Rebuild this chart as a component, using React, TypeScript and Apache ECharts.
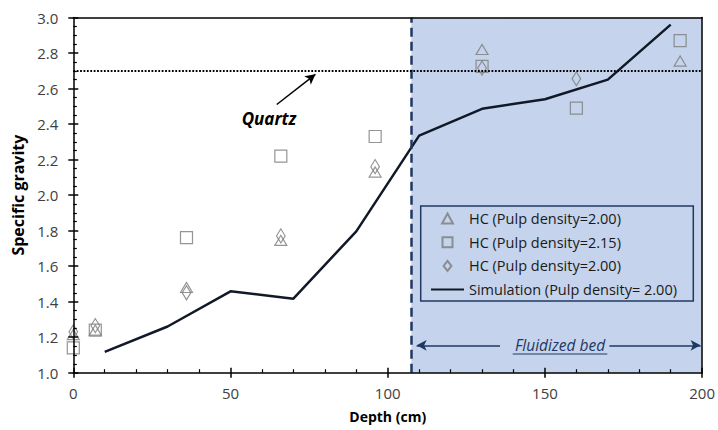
import React, { useEffect, useRef } from "react";
import * as echarts from "echarts";

const depthHC = [0, 7, 36, 66, 96, 130, 160, 193];
const hcA = [1.215, 1.24, 1.48, 1.745, 2.13, 2.82, null, 2.755];
const hcB = [1.14, 1.24, 1.76, 2.22, 2.33, 2.725, 2.49, 2.87];
const hcC = [1.23, 1.265, 1.45, 1.77, 2.16, 2.715, 2.655, null];
const simDepth = [10, 30, 50, 70, 90, 110, 130, 150, 170, 190];
const simSG = [1.117, 1.26, 1.458, 1.417, 1.796, 2.335, 2.486, 2.54, 2.65, 2.96];
const nameA = "HC (Pulp density=2.00)";
const nameB = "HC (Pulp density=2.15)";
const nameC = "HC (Pulp density=2.00) ";
const nameS = "Simulation (Pulp density= 2.00)";
const quartzSG = 2.7;
const bedStart = 107.5;
const xTicks = [0, 50, 100, 150, 200];

const FONT = "'Open Sans', Lato, sans-serif";
const NAVY = "#1F3864";
const GRAY = "#7a7a7a";
const TRI = "path://M6,0 L12,11 L0,11 Z";
const SQR = "path://M0,0 L12,0 L12,12 L0,12 Z";
const DIA = "path://M5.5,0 L11,7 L5.5,14 L0,7 Z";

function pairs(xs: number[], ys: (number | null)[]) {
  return xs.map((x, i) => [x, ys[i]]).filter((p) => p[1] !== null);
}

export default function App() {
  const ref = useRef<HTMLDivElement>(null);
  useEffect(() => {
    if (!ref.current) return;
    const chart = echarts.init(ref.current, undefined, { renderer: "svg" });
    const axisBase = {
      type: "value",
      min: 0,
      max: 200,
      interval: 50,
      splitLine: { show: false },
    };
    const yBase = {
      type: "value",
      min: 1,
      max: 3,
      interval: 0.2,
      splitLine: { show: false },
    };
    const markerStyle = {
      color: "rgba(0,0,0,0)",
      borderColor: GRAY,
      borderWidth: 1.2,
    };
    chart.setOption({
      animation: false,
      grid: { left: 73.3, right: 12.5, top: 17.5, bottom: 57.3 },
      xAxis: [
        {
          ...axisBase,
          position: "bottom",
          z: 5,
          name: "Depth (cm)",
          nameLocation: "middle",
          nameGap: 37,
          nameTextStyle: { fontFamily: FONT, fontSize: 14, fontWeight: "bold", color: "#000" },
          axisLine: { onZero: false, lineStyle: { color: "#000", width: 1.5 } },
          axisTick: { show: true, inside: false, length: 5, lineStyle: { color: "#000", width: 1.5 } },
          minorTick: { show: false },
          axisLabel: {
            margin: 13,
            fontFamily: FONT,
            fontSize: 15,
            color: "#404040",
            formatter: (v: number) => (xTicks.includes(v) ? String(v) : ""),
          },
        },
        {
          ...axisBase,
          position: "bottom",
          z: 5,
          axisLine: { show: false, onZero: false },
          axisTick: { show: true, inside: true, length: 5, lineStyle: { color: "#000", width: 1.5 } },
          minorTick: { show: true, splitNumber: 5, length: 3.5, lineStyle: { color: "#000", width: 1.2 } },
          axisLabel: { show: false },
        },
        {
          ...axisBase,
          position: "top",
          z: 5,
          axisLine: { show: true, onZero: false, lineStyle: { color: "#000", width: 1.5 } },
          axisTick: { show: false },
          axisLabel: { show: false },
        },
      ],
      yAxis: [
        {
          ...yBase,
          position: "left",
          z: 5,
          name: "Specific gravity",
          nameLocation: "middle",
          nameGap: 45,
          nameTextStyle: { fontFamily: FONT, fontSize: 16, fontWeight: "bold", color: "#000" },
          axisLine: { onZero: false, lineStyle: { color: "#000", width: 1.5 } },
          axisTick: { show: true, inside: false, length: 5, lineStyle: { color: "#000", width: 1.5 } },
          minorTick: { show: false },
          axisLabel: {
            margin: 15,
            fontFamily: FONT,
            fontSize: 15,
            color: "#404040",
            formatter: (v: number) => v.toFixed(1),
          },
        },
        {
          ...yBase,
          position: "left",
          z: 5,
          axisLine: { show: false, onZero: false },
          axisTick: { show: true, inside: true, length: 5, lineStyle: { color: "#000", width: 1.5 } },
          minorTick: { show: true, splitNumber: 4, length: 3.5, lineStyle: { color: "#000", width: 1.2 } },
          axisLabel: { show: false },
        },
        {
          ...yBase,
          position: "right",
          z: 5,
          axisLine: { show: true, onZero: false, lineStyle: { color: "#000", width: 1.5 } },
          axisTick: { show: false },
          axisLabel: { show: false },
        },
      ],
      legend: {
        data: [
          { name: nameA },
          { name: nameB },
          { name: nameC },
          { name: nameS, itemStyle: { opacity: 0 } },
        ],
        orient: "vertical",
        left: 430,
        top: 210.5,
        padding: 0,
        itemWidth: 33,
        itemHeight: 10,
        itemGap: 7.7,
        symbolKeepAspect: true,
        selectedMode: false,
        textStyle: { fontFamily: FONT, fontSize: 14.5, color: "#1a1a1a", lineHeight: 16 },
      },
      graphic: [
        {
          type: "rect",
          z: 20,
          shape: { x: 420.7, y: 206, width: 272.6, height: 95 },
          style: { fill: "none", stroke: NAVY, lineWidth: 1.5 },
          silent: true,
        },
        {
          type: "text",
          z: 20,
          x: 269,
          y: 118,
          style: {
            text: "Quartz",
            fontFamily: FONT,
            fontSize: 17,
            fontWeight: "bold",
            fontStyle: "italic",
            fill: "#000",
            align: "center",
            verticalAlign: "middle",
          },
          silent: true,
        },
        {
          type: "text",
          z: 20,
          x: 560,
          y: 345,
          style: {
            text: "Fluidized bed",
            fontFamily: FONT,
            fontSize: 15.5,
            fontStyle: "italic",
            fill: NAVY,
            align: "center",
            verticalAlign: "middle",
          },
          silent: true,
        },
        {
          type: "line",
          z: 20,
          shape: { x1: 512.7, y1: 354, x2: 607.3, y2: 354 },
          style: { stroke: NAVY, lineWidth: 1 },
          silent: true,
        },
      ],
      series: [
        {
          type: "line",
          name: "_bed",
          data: [],
          z: 1,
          silent: true,
          markArea: {
            silent: true,
            itemStyle: { color: "#C5D4EC", opacity: 1 },
            label: { show: false },
            data: [[{ xAxis: bedStart }, { xAxis: 200 }]],
          },
          markLine: {
            silent: true,
            symbol: ["none", "none"],
            label: { show: false },
            data: [
              { xAxis: bedStart, lineStyle: { color: NAVY, width: 2.5, type: [9, 5] } },
              { yAxis: quartzSG, lineStyle: { color: "#000", width: 2, type: [1.8, 1.6] } },
            ],
          },
        },
        {
          type: "line",
          name: "_arrowsEnd",
          data: [],
          z: 6,
          silent: true,
          markLine: {
            silent: true,
            symbol: ["none", "arrow"],
            symbolSize: [8, 10],
            label: { show: false },
            data: [
              [
                { coord: [64.7, 2.51], lineStyle: { color: "#000", width: 1.5, type: "solid" } },
                { coord: [77, 2.68] },
              ],
              [
                { coord: [170.5, 1.154], lineStyle: { color: NAVY, width: 1.5, type: "solid" } },
                { coord: [199.5, 1.154] },
              ],
            ],
          },
        },
        {
          type: "line",
          name: "_arrowsStart",
          data: [],
          z: 6,
          silent: true,
          markLine: {
            silent: true,
            symbol: ["arrow", "none"],
            symbolSize: [8, 10],
            label: { show: false },
            data: [
              [
                { coord: [109.2, 1.154], lineStyle: { color: NAVY, width: 1.5, type: "solid" } },
                { coord: [135.7, 1.154] },
              ],
            ],
          },
        },
        {
          type: "line",
          name: nameS,
          data: pairs(simDepth, simSG),
          z: 4,
          symbol: "none",
          showSymbol: false,
          lineStyle: { color: "#111827", width: 2.5 },
          itemStyle: { color: "rgba(0,0,0,0)" },
          silent: true,
        },
        {
          type: "scatter",
          name: nameA,
          data: pairs(depthHC, hcA),
          symbol: TRI,
          symbolSize: [12, 11],
          symbolKeepAspect: true,
          clip: false,
          z: 3,
          itemStyle: markerStyle,
          silent: true,
        },
        {
          type: "scatter",
          name: nameB,
          data: pairs(depthHC, hcB),
          symbol: SQR,
          symbolSize: 12,
          symbolKeepAspect: true,
          clip: false,
          z: 3,
          itemStyle: markerStyle,
          silent: true,
        },
        {
          type: "scatter",
          name: nameC,
          data: pairs(depthHC, hcC),
          symbol: DIA,
          symbolSize: [11, 14],
          symbolKeepAspect: true,
          clip: false,
          z: 3,
          itemStyle: markerStyle,
          silent: true,
        },
      ],
    });
    return () => chart.dispose();
  }, []);
  return (
    <div
      ref={ref}
      style={{ position: "fixed", left: 0, top: 0, width: 718, height: 430, background: "#fff" }}
    />
  );
}
